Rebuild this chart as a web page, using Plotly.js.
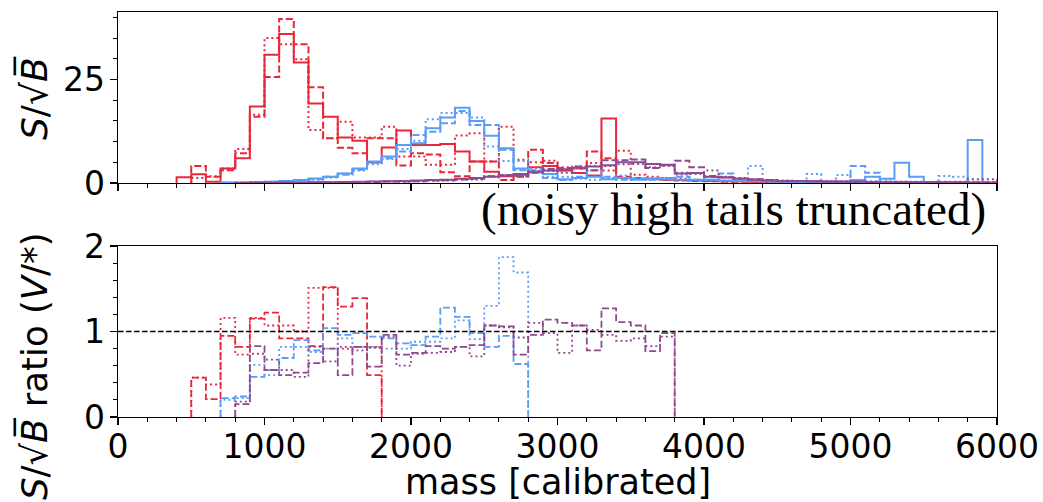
<!DOCTYPE html>
<html><head><meta charset="utf-8">
<script src="https://cdn.plot.ly/plotly-3.0.1.min.js"></script>
<style>html,body{margin:0;padding:0;background:#fff}#chart{width:1043px;height:502px}</style>
</head><body><div id="chart"></div>
<script>
const BIN_WIDTH = 100;
const xTickVals = [0, 1000, 2000, 3000, 4000, 5000, 6000];
const yTopTicks = [0, 25];
const yRatioTicks = [0, 1, 2];

// top panel: S/sqrt(B), bins of 100
const redSolidStart = 400;
const redSolid = [1.4, 2.1, 0.3, 3.5, 6.0, 18.5, 31.0, 36.0, 29.1, 19.2, 16.0, 11.0, 10.2, 5.0, 8.6, 12.7, 9.2, 9.2, 9.4, 7.6, 5.2, 2.7, 1.6, 2.0, 3.8, 4.1, 3.0, 2.4, 1.8, 15.6, 1.2, 1.0, 0.9, 0.8, 0.7, 0.6, 0.5, 0.4, 0.4, 0.3, 0.3, 0.2, 0.2, 0.2, 0.1, 0.1];
const redDashedStart = 500;
const redDashed = [4.1, 1.5, 3.1, 7.2, 16.0, 25.6, 39.6, 33.5, 23.1, 10.8, 8.5, 7.2, 10.8, 10.8, 4.2, 7.2, 6.9, 2.6, 1.6, 5.2, 5.2, 0.7, 1.5, 8.0, 4.8, 3.1, 3.5, 7.6, 6.0, 1.5, 1.2, 1.0, 0.8, 0.6, 0.5, 0.4, 0.3, 0.3, 0.2, 0.2];
const redDottedStart = 500;
const redDotted = [1.2, 1.6, 3.5, 8.2, 16.5, 35.0, 33.5, 29.9, 12.8, 10.8, 14.8, 11.0, 11.0, 13.6, 6.4, 6.4, 4.4, 4.4, 11.5, 12.0, 5.2, 13.6, 5.6, 5.0, 5.4, 3.8, 3.5, 4.8, 3.0, 7.8, 2.0, 1.5, 1.2, 1.0, 0.8, 0.6, 0.5, 0.4, 0.3, 0.3, 0.2];

const blueSolidStart = 700;
const blueSolid = [0.1, 0.1, 0.2, 0.3, 0.5, 0.7, 1.1, 1.5, 2.3, 3.5, 5.2, 6.4, 9.2, 9.6, 13.2, 15.8, 18.2, 15.0, 11.4, 8.4, 3.5, 2.7, 2.2, 0.9, 1.2, 1.5, 0.9, 1.2, 0.8, 1.0, 0.9, 0.8, 0.7, 0.8, 0.6, 0.5, 0.5, 0.4, 0.3, 0.4, 0.3, 0.3, 0.3, 0.7, 1.5, 1.0, 4.9, 1.5, 0.2, 0.1, 0.1, 10.4, 0.0];
const blueDashedStart = 700;
const blueDashed = [0.05, 0.1, 0.2, 0.3, 0.4, 0.6, 0.9, 1.5, 2.0, 3.2, 4.8, 6.0, 7.6, 11.6, 12.4, 14.4, 17.4, 14.0, 14.0, 8.0, 3.1, 3.1, 1.2, 0.7, 1.5, 3.0, 1.5, 0.8, 1.0, 0.8, 1.2, 1.5, 0.8, 1.4, 2.3, 0.5, 0.4, 0.3, 0.5, 0.2, 0.3, 0.2, 0.3, 4.1, 2.5, 0.3, 0.2, 0.2, 0.1, 0.1, 0.1, 0.1, 0.1];
const blueDottedStart = 700;
const blueDotted = [0.05, 0.1, 0.15, 0.2, 0.4, 0.6, 0.8, 1.3, 2.3, 3.0, 4.5, 5.8, 8.2, 10.2, 15.4, 16.9, 16.9, 15.8, 8.8, 5.3, 5.3, 3.5, 1.5, 1.5, 1.0, 0.8, 1.2, 1.8, 1.0, 1.2, 1.0, 2.0, 0.8, 0.6, 0.5, 0.6, 4.1, 0.5, 0.4, 0.3, 2.2, 0.3, 1.9, 0.6, 0.4, 0.3, 0.3, 0.3, 0.2, 1.7, 1.5, 0.3, 0.2];

const purpleSolidStart = 800;
const purpleSolid = [0.02, 0.05, 0.05, 0.1, 0.1, 0.15, 0.2, 0.25, 0.3, 0.35, 0.4, 0.5, 0.6, 0.7, 0.8, 1.0, 1.2, 1.5, 1.8, 2.2, 2.6, 3.0, 3.3, 3.7, 4.0, 4.3, 5.0, 5.0, 4.6, 4.4, 2.3, 2.4, 1.5, 1.3, 1.0, 0.8, 0.6, 0.5, 0.5, 0.4, 0.35, 0.3, 0.3, 0.25, 0.2, 0.2, 0.15, 0.15, 0.1, 0.1, 0.1, 0.1];
const purpleDashedStart = 800;
const purpleDashed = [0.0, 0.04, 0.03, 0.05, 0.05, 0.1, 0.16, 0.12, 0.25, 0.2, 0.38, 0.36, 0.45, 0.58, 0.64, 0.82, 1.0, 1.6, 1.9, 1.6, 2.5, 3.4, 3.6, 4.0, 3.1, 5.5, 5.5, 5.7, 3.6, 4.3, 5.4, 3.8, 1.7, 1.4, 1.1, 0.9, 0.7, 0.5, 0.5, 0.4, 0.3, 0.3, 0.3, 0.2, 0.2, 0.2, 0.15, 0.1, 0.1, 0.1, 0.1, 0.1];
const purpleDottedStart = 800;
const purpleDotted = [0.02, 0.04, 0.03, 0.05, 0.05, 0.12, 0.13, 0.2, 0.23, 0.28, 0.38, 0.3, 0.45, 0.52, 0.6, 0.82, 0.85, 1.6, 1.9, 2.0, 2.9, 2.9, 2.5, 4.0, 4.1, 4.1, 4.5, 4.6, 3.8, 4.1, 2.5, 2.2, 3.0, 1.5, 1.2, 0.9, 0.7, 0.6, 0.5, 0.5, 0.4, 0.4, 0.3, 0.3, 0.3, 0.3, 0.2, 0.2, 0.3, 0.3, 0.9, 0.9];

// bottom panel: ratios
const ratioRedStart = 500;
const ratioRedDashed = [0.46, 0.21, 0.95, 0.82, 1.15, 1.22, 0.92, 0.92, 0.83, 1.52, 1.29, 1.39, 0.49];
const ratioRedDotted = [0.46, 0.38, 1.16, 0.73, 1.16, 1.07, 1.07, 1.0, 1.51, 1.51, 0.8, 0.82, 0.82];
const ratioBlueStart = 700;
const ratioBlueDashed = [0.22, 0.24, 0.47, 0.55, 0.69, 0.9, 0.78, 1.04, 0.96, 0.98, 0.94, 0.92, 0.86, 0.84, 0.94, 1.28, 1.17, 0.98, 0.82, 0.95, 0.62];
const ratioBlueDotted = [0.2, 0.22, 0.61, 0.49, 0.82, 0.82, 0.76, 0.8, 0.92, 0.82, 0.82, 0.8, 0.8, 0.88, 0.88, 0.92, 1.13, 0.91, 1.3, 1.87, 1.69];
const ratioPurpleStart = 800;
const ratioPurpleDashed = [0.15, 0.83, 0.55, 0.49, 0.52, 0.63, 0.8, 0.49, 0.82, 0.59, 0.96, 0.73, 0.75, 0.83, 0.8, 0.82, 0.84, 1.07, 1.06, 0.73, 0.96, 1.14, 1.1, 1.07, 0.78, 1.27, 1.11, 1.07, 0.77, 0.98];
const ratioPurpleDotted = [0.18, 0.74, 0.67, 0.55, 0.47, 0.82, 0.65, 0.82, 0.78, 0.81, 0.94, 0.6, 0.74, 0.75, 0.76, 0.82, 0.71, 1.07, 1.05, 0.93, 1.1, 0.98, 0.75, 1.07, 1.02, 0.96, 0.89, 0.92, 0.83, 0.94];

const RED = '#e8283a', BLUE = '#5a9cf8', PURPLE = '#8f4a8f';
const SOLID = 'solid', DASHED = '7px,3px', DOTTED = '2px,3px';

function stepTrace(start, vals, color, dash, xa, ya, width) {
  const x = [start], y = [0];
  vals.forEach((v, i) => { x.push(start + i * BIN_WIDTH); y.push(v); });
  const end = start + vals.length * BIN_WIDTH;
  x.push(end); y.push(vals[vals.length - 1]);
  x.push(end); y.push(0);
  return {type: 'scatter', mode: 'lines', x: x, y: y, xaxis: xa, yaxis: ya,
    line: {color: color, dash: dash, width: width, shape: 'hv'},
    hoverinfo: 'skip', showlegend: false};
}

const traces = [
  stepTrace(redSolidStart, redSolid, RED, SOLID, 'x', 'y', 2),
  stepTrace(redDashedStart, redDashed, RED, DASHED, 'x', 'y', 2),
  stepTrace(redDottedStart, redDotted, RED, DOTTED, 'x', 'y', 2),
  stepTrace(blueSolidStart, blueSolid, BLUE, SOLID, 'x', 'y', 2),
  stepTrace(blueDashedStart, blueDashed, BLUE, DASHED, 'x', 'y', 2),
  stepTrace(blueDottedStart, blueDotted, BLUE, DOTTED, 'x', 'y', 2),
  stepTrace(purpleSolidStart, purpleSolid, PURPLE, SOLID, 'x', 'y', 2),
  stepTrace(purpleDashedStart, purpleDashed, PURPLE, DASHED, 'x', 'y', 2),
  stepTrace(purpleDottedStart, purpleDotted, PURPLE, DOTTED, 'x', 'y', 2),
  stepTrace(ratioRedStart, ratioRedDashed, RED, DASHED, 'x2', 'y2', 1.8),
  stepTrace(ratioRedStart, ratioRedDotted, RED, DOTTED, 'x2', 'y2', 1.8),
  stepTrace(ratioBlueStart, ratioBlueDashed, BLUE, DASHED, 'x2', 'y2', 1.8),
  stepTrace(ratioBlueStart, ratioBlueDotted, BLUE, DOTTED, 'x2', 'y2', 1.8),
  stepTrace(ratioPurpleStart, ratioPurpleDashed, PURPLE, DASHED, 'x2', 'y2', 1.8),
  stepTrace(ratioPurpleStart, ratioPurpleDotted, PURPLE, DOTTED, 'x2', 'y2', 1.8)
];

const tickFont = {family: 'DejaVu Sans', size: 33, color: '#000'};
const axBase = {showline: true, mirror: true, linecolor: '#000', linewidth: 1.3,
  ticks: 'outside', ticklen: 7, tickwidth: 1.3, tickcolor: '#000',
  showgrid: false, zeroline: false, tickfont: tickFont, fixedrange: true};

const layout = {
  width: 1043, height: 502,
  margin: {l: 118, r: 46, t: 12, b: 85, pad: 0},
  paper_bgcolor: '#fff', plot_bgcolor: '#fff',
  showlegend: false,
  xaxis: Object.assign({}, axBase, {anchor: 'y', domain: [0, 1], range: [0, 6000],
    tickvals: xTickVals, showticklabels: false,
    minor: {dtick: 200, tick0: 0, ticks: 'outside', ticklen: 3.5, tickwidth: 1, tickcolor: '#000'}}),
  yaxis: Object.assign({}, axBase, {anchor: 'x', domain: [0.5778, 1], range: [0, 41.3],
    tickvals: yTopTicks, ticktext: yTopTicks.map(String), ticklabelstandoff: -2,
    minor: {dtick: 5, tick0: 0, ticks: 'outside', ticklen: 3.5, tickwidth: 1, tickcolor: '#000'}}),
  xaxis2: Object.assign({}, axBase, {anchor: 'y2', domain: [0, 1], range: [0, 6000],
    tickvals: xTickVals, ticktext: xTickVals.map(String), ticklabelstandoff: -7,
    minor: {dtick: 200, tick0: 0, ticks: 'outside', ticklen: 3.5, tickwidth: 1, tickcolor: '#000'}}),
  yaxis2: Object.assign({}, axBase, {anchor: 'x2', domain: [0, 0.4222], range: [0, 2],
    tickvals: yRatioTicks, ticktext: yRatioTicks.map(String), ticklabelstandoff: -2,
    minor: {dtick: 0.2, tick0: 0, ticks: 'outside', ticklen: 3.5, tickwidth: 1, tickcolor: '#000'}}),
  shapes: [{type: 'line', xref: 'x2 domain', yref: 'y2', x0: 0, x1: 1, y0: 1, y1: 1,
    line: {color: '#000', width: 1.5, dash: '5.5px,2.5px'}, layer: 'above'}],
  annotations: [
    {xref: 'paper', yref: 'paper', x: -0.0955, y: 0.7877, xanchor: 'center', yanchor: 'middle',
     textangle: -90, showarrow: false,
     text: '<i>S</i>/√<i>B̅</i>', font: {family: 'DejaVu Sans', size: 36, color: '#000'}},
    {xref: 'paper', yref: 'paper', x: -0.0955, y: 0.126, xanchor: 'center', yanchor: 'middle',
     textangle: -90, showarrow: false,
     text: '<i>S</i>/√<i>B̅</i> ratio (<i>V</i>/*)', font: {family: 'DejaVu Sans', size: 35.5, color: '#000'}},
    {xref: 'paper', yref: 'paper', x: 0.5, y: -0.1605, xanchor: 'center', yanchor: 'middle',
     showarrow: false, text: 'mass [calibrated]',
     font: {family: 'DejaVu Sans', size: 35, color: '#000'}},
    {xref: 'paper', yref: 'paper', x: 0.9898, y: 0.5136, xanchor: 'right', yanchor: 'middle',
     showarrow: false, text: '(noisy high tails truncated)',
     font: {family: 'Liberation Serif', size: 47, color: '#000'}}
  ]
};

Plotly.newPlot('chart', traces, layout, {staticPlot: true, displayModeBar: false});
</script>
</body></html>
